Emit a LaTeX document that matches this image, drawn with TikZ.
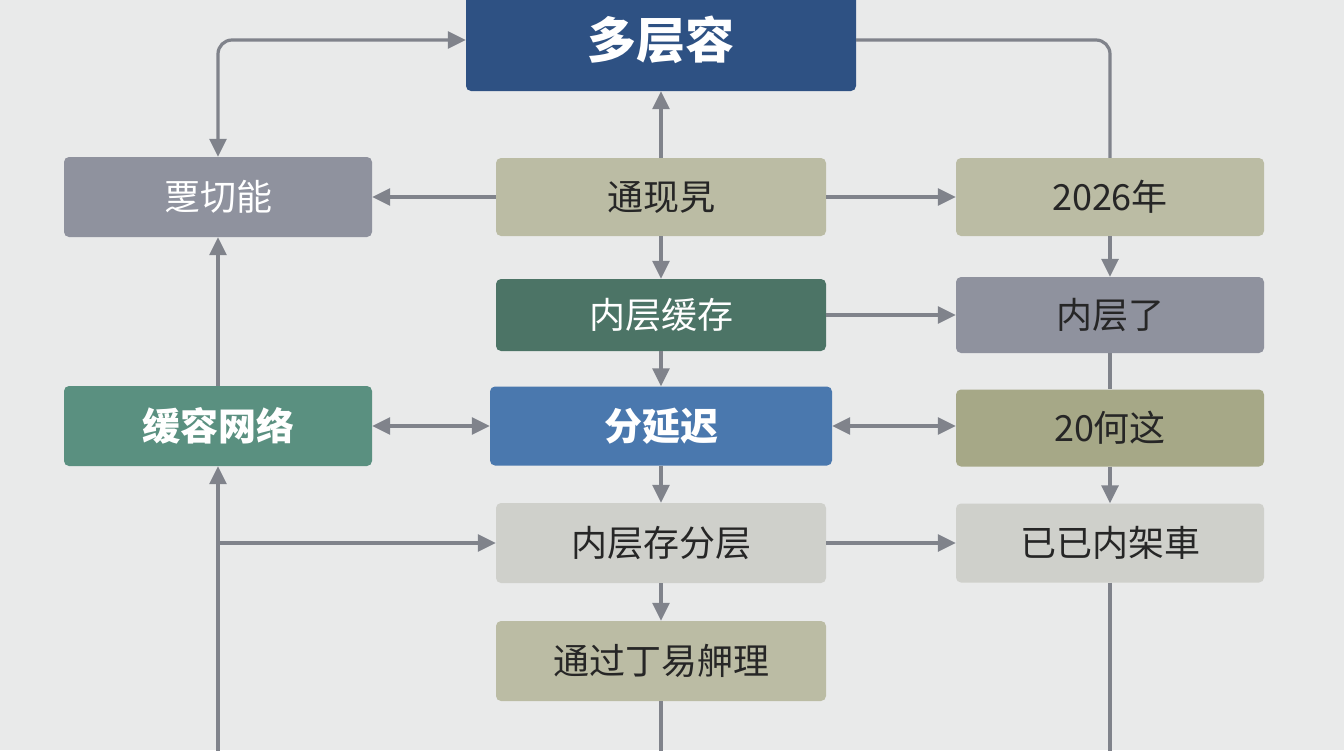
\documentclass[tikz,border=0pt]{standalone}
\usepackage{fontspec}
\newfontfamily\cjk{Noto Sans CJK SC}
\usetikzlibrary{arrows.meta}

\definecolor{bg}{HTML}{E9EAEA}
\definecolor{linkgray}{HTML}{80838B}
\definecolor{navy}{HTML}{2E5183}
\definecolor{slate}{HTML}{8F929E}
\definecolor{khaki}{HTML}{BBBCA4}
\definecolor{pine}{HTML}{4C7466}
\definecolor{teal}{HTML}{5A9080}
\definecolor{steel}{HTML}{4A78AE}
\definecolor{olive}{HTML}{A6A887}
\definecolor{pale}{HTML}{CFD0CB}

\begin{document}
\begin{tikzpicture}
  [x=1pt,y=-1pt,>={Triangle[length=18pt,width=17pt]},
   every node/.style={rounded corners=5pt,minimum width=330pt,minimum height=78pt,inner sep=0pt,
     font=\cjk\fontsize{36}{42}\selectfont,text=black!85},
   side/.style={minimum width=308pt},
   strong/.style={font=\cjk\bfseries\fontsize{38}{44}\selectfont,text=white},
   link/.style={draw=linkgray,line width=3.2pt}]
  \fill[bg] (0,0) rectangle (1344,750);
  \useasboundingbox (0,0) rectangle (1344,750);

  \node[fill=navy,minimum width=390pt,minimum height=102pt,font=\cjk\bfseries\fontsize{49}{54}\selectfont,text=white] (n1) at (661,40) {多层容};
  \node[fill=slate,side,minimum height=80pt,text=white] (n2) at (218,197) {覂切能};
  \node[fill=khaki] (n3) at (661,197) {通现旯};
  \node[fill=khaki,side] (n4) at (1110,197) {2026年};
  \node[fill=pine,minimum height=72pt,text=white] (n5) at (661,315) {内层缓存};
  \node[fill=slate,side,minimum height=76pt] (n6) at (1110,315) {内层了};
  \node[fill=teal,side,minimum height=80pt,strong] (n7) at (218,426) {缓容网络};
  \node[fill=steel,minimum width=342pt,minimum height=79pt,strong] (n8) at (661,426) {分延迟};
  \node[fill=olive,side,minimum height=77pt] (n9) at (1110,428) {20何这};
  \node[fill=pale,minimum height=80pt] (n10) at (661,543) {内层存分层};
  \node[fill=pale,side,minimum height=79pt] (n11) at (1110,543) {已已内架車};
  \node[fill=khaki,minimum height=80pt] (n12) at (661,661) {通过丁易舺理};

  \coordinate (b1) at (218,760);

  \foreach \from/\to in {n3/n1,n3/n2,n3/n4,n3/n5,n4/n6,n5/n6,n5/n8,n8/n10,n9/n11,n10/n11,n10/n12,n7/n2}
    \draw[link,->] (\from) -- (\to);
  \foreach \from/\to in {n7/n8}
    \draw[link,<->] (\from) -- (\to);
  \draw[link,<->] (n8.east) -- (n8.east -| n9.west);
  \draw[link] (n6) -- (n9);

  \draw[link,<->,rounded corners=14pt] (n2.north) |- (n1.west);
  \draw[link,rounded corners=14pt] (n1.east) -| (n4.north);
  \draw[link,->] (b1) -- (n7.south);
  \draw[link,->] (b1 |- n10.west) -- (n10.west);
  \draw[link] (n12.south) -- (n12.south |- b1);
  \draw[link] (n11.south) -- (n11.south |- b1);
\end{tikzpicture}
\end{document}
